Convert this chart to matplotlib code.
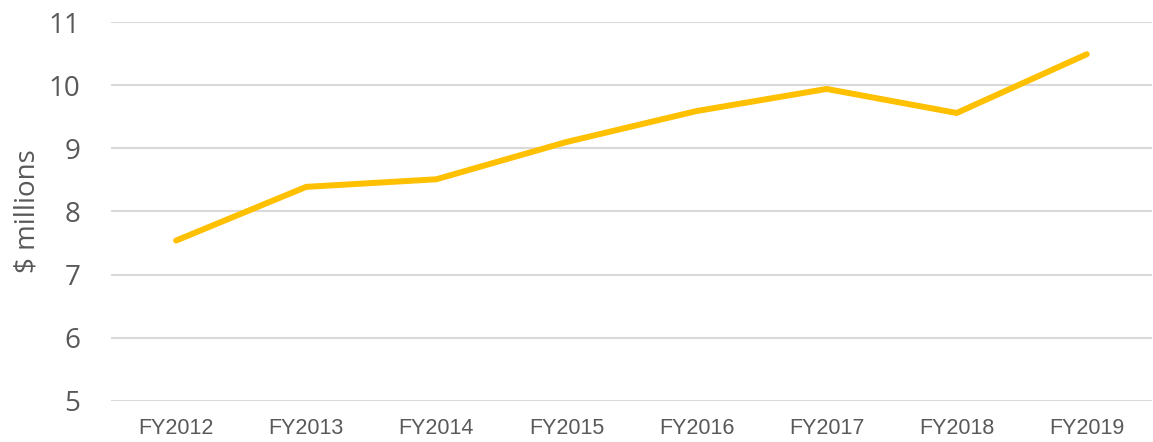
import matplotlib
matplotlib.use("Agg")
import matplotlib.pyplot as plt

years = ["FY2012", "FY2013", "FY2014", "FY2015", "FY2016", "FY2017", "FY2018", "FY2019"]
values = [7.54, 8.39, 8.51, 9.10, 9.59, 9.94, 9.56, 10.49]
y_ticks = [5, 6, 7, 8, 9, 10, 11]

text_color = "#595959"

fig = plt.figure(figsize=(11.53, 4.42), dpi=100)
ax = fig.add_axes([0.0963, 0.0928, 0.9027, 0.8574])

x = list(range(len(years)))
ax.plot(x, values, color="#FFC000", linewidth=4.3, solid_capstyle="round", zorder=3)

ax.set_xlim(-0.5, len(years) - 0.5)
ax.set_ylim(5, 11)
ax.set_yticks(y_ticks)
ax.set_yticklabels([str(t) for t in y_ticks], fontfamily="Open Sans", fontsize=20, color=text_color)
ax.set_xticks(x)
ax.set_xticklabels(years, fontfamily="Liberation Sans", fontsize=15.5, color=text_color)

ax.tick_params(axis="y", length=0, pad=22)
ax.tick_params(axis="x", length=0, pad=12)
ax.grid(axis="y", color="#D9D9D9", linewidth=1.5, zorder=0)
for s in ax.spines.values():
    s.set_visible(False)

ax.set_ylabel("$ millions", fontfamily="Open Sans", fontsize=20, color=text_color, labelpad=5)

fig.savefig("out.png", dpi=100)
